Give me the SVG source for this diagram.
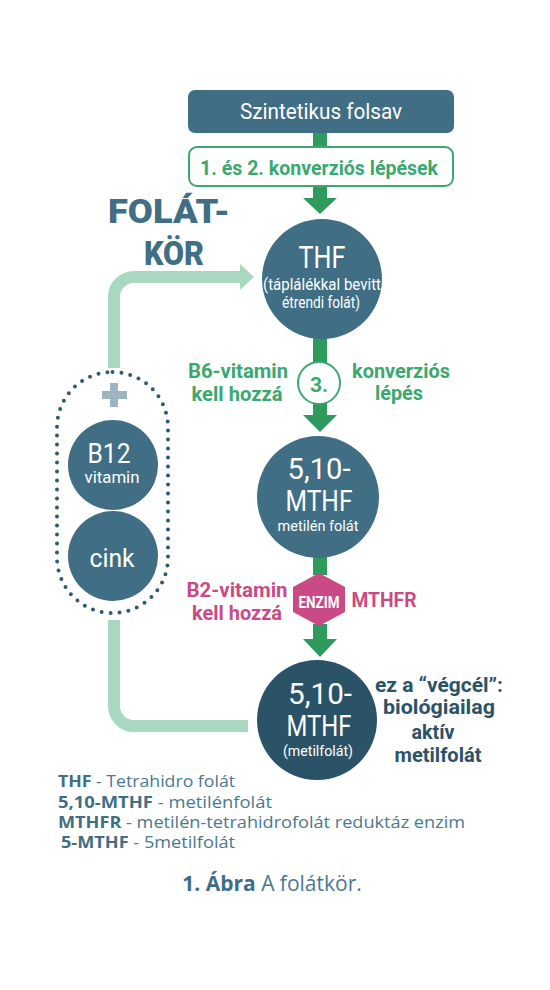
<svg xmlns="http://www.w3.org/2000/svg" width="550" height="990" viewBox="0 0 550 990">
<style>
.cond{font-family:Roboto,"Liberation Sans",sans-serif;}
.w{fill:#ffffff;}
.g{fill:#3aa86f;font-weight:bold;}
.p{fill:#c94a84;font-weight:bold;}
.d{fill:#2b5368;font-weight:bold;}
.blue{fill:#3f6e85;}
.dark{fill:#2b5368;}
.arr{fill:#2e9a5c;}
.pipe{fill:none;stroke:#a8d8bf;stroke-width:12;}
.big{font-family:Roboto,"Liberation Sans",sans-serif;font-weight:900;font-size:34px;fill:#3f6e85;}
.leg{font-family:"Open Sans","Liberation Sans",sans-serif;font-size:16px;fill:#4a7890;}
.leg .b{font-weight:bold;fill:#3f6e85;}
</style>
<rect width="550" height="990" fill="#ffffff"/>

<g id="connectors">
  <path class="pipe" d="M114 368 V297 A20 20 0 0 1 134 277 H242"/>
  <polygon points="240,264 254,277 240,290" fill="#a8d8bf"/>
  <path class="pipe" d="M114 620 V706 A20 20 0 0 0 134 726 H248"/>
  <rect class="arr" x="313" y="132" width="14" height="16"/>
  <rect class="arr" x="313" y="185" width="14" height="14"/>
  <polygon class="arr" points="303,198 337,198 320,214"/>
  <rect class="arr" x="313" y="334" width="14" height="30"/>
  <rect class="arr" x="313" y="402" width="14" height="14"/>
  <polygon class="arr" points="303,415 337,415 320,432"/>
  <rect class="arr" x="313" y="553" width="14" height="22"/>
  <rect class="arr" x="313" y="624" width="14" height="16"/>
  <polygon class="arr" points="303,639 337,639 320,657"/>
</g>

<g id="szintetikus">
  <rect x="188" y="90" width="266" height="43" rx="7" class="blue"/>
  <text x="321" y="119" class="cond w" font-size="22" text-anchor="middle" textLength="162" lengthAdjust="spacingAndGlyphs">Szintetikus folsav</text>
</g>

<g id="konverzio12">
  <rect x="189" y="147" width="264" height="39" rx="8" fill="#ffffff" stroke="#3aa86f" stroke-width="2"/>
  <text x="319" y="175" class="cond g" font-size="21" text-anchor="middle" textLength="238" lengthAdjust="spacingAndGlyphs">1. és 2. konverziós lépések</text>
</g>

<g id="folatkor">
  <text x="169" y="223" class="big" text-anchor="middle" textLength="122" lengthAdjust="spacingAndGlyphs">FOLÁT-</text>
  <text x="174" y="265" class="big" text-anchor="middle" textLength="60" lengthAdjust="spacingAndGlyphs">KÖR</text>
</g>

<g id="thf">
  <circle cx="322" cy="279" r="60" class="blue"/>
  <text x="322" y="268" class="cond w" font-size="32" text-anchor="middle" textLength="47" lengthAdjust="spacingAndGlyphs">THF</text>
  <text x="322" y="290" class="cond w" font-size="16" text-anchor="middle" textLength="118" lengthAdjust="spacingAndGlyphs">(táplálékkal bevitt</text>
  <text x="321" y="308" class="cond w" font-size="16" text-anchor="middle" textLength="78" lengthAdjust="spacingAndGlyphs">étrendi folát)</text>
</g>

<g id="lepes3">
  <circle cx="319" cy="383" r="21" fill="#ffffff" stroke="#3aa86f" stroke-width="2"/>
  <text x="319" y="392" class="cond g" font-size="21" text-anchor="middle">3.</text>
  <text x="238" y="378" class="cond g" font-size="21" text-anchor="middle" textLength="100" lengthAdjust="spacingAndGlyphs">B6-vitamin</text>
  <text x="237" y="401" class="cond g" font-size="21" text-anchor="middle" textLength="91" lengthAdjust="spacingAndGlyphs">kell hozzá</text>
  <text x="401" y="378" class="cond g" font-size="21" text-anchor="middle" textLength="98" lengthAdjust="spacingAndGlyphs">konverziós</text>
  <text x="399" y="400" class="cond g" font-size="21" text-anchor="middle" textLength="48" lengthAdjust="spacingAndGlyphs">lépés</text>
</g>

<g id="mthf1">
  <circle cx="318" cy="497" r="61" class="blue"/>
  <text x="319" y="479" class="cond w" font-size="29" text-anchor="middle" textLength="63" lengthAdjust="spacingAndGlyphs">5,10-</text>
  <text x="319" y="511" class="cond w" font-size="29" text-anchor="middle" textLength="67" lengthAdjust="spacingAndGlyphs">MTHF</text>
  <text x="318" y="531" class="cond w" font-size="15" text-anchor="middle" textLength="81" lengthAdjust="spacingAndGlyphs">metilén folát</text>
</g>

<g id="enzim">
  <polygon points="319,573 345,587 345,612 319,626 293,612 293,587" fill="#c94a84"/>
  <text x="319" y="608" class="cond w" font-size="16" font-weight="bold" text-anchor="middle" textLength="41" lengthAdjust="spacingAndGlyphs">ENZIM</text>
  <text x="237" y="597" class="cond p" font-size="21" text-anchor="middle" textLength="101" lengthAdjust="spacingAndGlyphs">B2-vitamin</text>
  <text x="237" y="620" class="cond p" font-size="21" text-anchor="middle" textLength="90" lengthAdjust="spacingAndGlyphs">kell hozzá</text>
  <text x="384" y="607" class="cond p" font-size="21" text-anchor="middle" textLength="65" lengthAdjust="spacingAndGlyphs">MTHFR</text>
</g>

<g id="mthf2">
  <circle cx="317" cy="720" r="60" class="dark"/>
  <text x="320" y="704" class="cond w" font-size="29" text-anchor="middle" textLength="64" lengthAdjust="spacingAndGlyphs">5,10-</text>
  <text x="319" y="736" class="cond w" font-size="29" text-anchor="middle" textLength="65" lengthAdjust="spacingAndGlyphs">MTHF</text>
  <text x="318" y="756" class="cond w" font-size="15" text-anchor="middle" textLength="70" lengthAdjust="spacingAndGlyphs">(metilfolát)</text>
</g>

<g id="vegcel">
  <text x="439" y="692" class="cond d" font-size="21" text-anchor="middle" textLength="128" lengthAdjust="spacingAndGlyphs">ez a “végcél”:</text>
  <text x="439" y="714" class="cond d" font-size="21" text-anchor="middle" textLength="112" lengthAdjust="spacingAndGlyphs">biológiailag</text>
  <text x="433" y="739" class="cond d" font-size="21" text-anchor="middle" textLength="43" lengthAdjust="spacingAndGlyphs">aktív</text>
  <text x="438" y="762" class="cond d" font-size="21" text-anchor="middle" textLength="87" lengthAdjust="spacingAndGlyphs">metilfolát</text>
</g>

<g id="kofaktorok">
  <rect x="57" y="372" width="111" height="241" rx="55.5" fill="none" stroke="#2f5a70" stroke-width="4" stroke-dasharray="0 9" stroke-linecap="round"/>
  <rect x="102" y="391" width="25" height="8" fill="#9fb3c0"/>
  <rect x="110" y="383" width="8" height="24" fill="#9fb3c0"/>
</g>

<g id="b12">
  <circle cx="113" cy="465" r="45" class="blue"/>
  <text x="109" y="463" class="cond w" font-size="28" text-anchor="middle" textLength="43" lengthAdjust="spacingAndGlyphs">B12</text>
  <text x="112" y="483" class="cond w" font-size="16" text-anchor="middle" textLength="55" lengthAdjust="spacingAndGlyphs">vitamin</text>
</g>

<g id="cink">
  <circle cx="113" cy="556" r="45" class="blue"/>
  <text x="112" y="567" class="cond w" font-size="26" text-anchor="middle" textLength="45" lengthAdjust="spacingAndGlyphs">cink</text>
</g>

<g id="legend">
  <text x="58" y="787" class="leg" textLength="177" lengthAdjust="spacingAndGlyphs"><tspan class="b">THF</tspan> - Tetrahidro folát</text>
  <text x="58" y="808" class="leg" textLength="214" lengthAdjust="spacingAndGlyphs"><tspan class="b">5,10-MTHF</tspan> - metilénfolát</text>
  <text x="58" y="828" class="leg" textLength="407" lengthAdjust="spacingAndGlyphs"><tspan class="b">MTHFR</tspan> - metilén-tetrahidrofolát reduktáz enzim</text>
  <text x="61" y="848" class="leg" textLength="174" lengthAdjust="spacingAndGlyphs"><tspan class="b">5-MTHF</tspan> - 5metilfolát</text>
  <text x="272" y="891" font-family="'Open Sans','Liberation Sans',sans-serif" font-size="21" fill="#4a7890" text-anchor="middle"><tspan font-weight="bold" fill="#3f6e85">1. Ábra</tspan> A folátkör.</text>
</g>
</svg>
